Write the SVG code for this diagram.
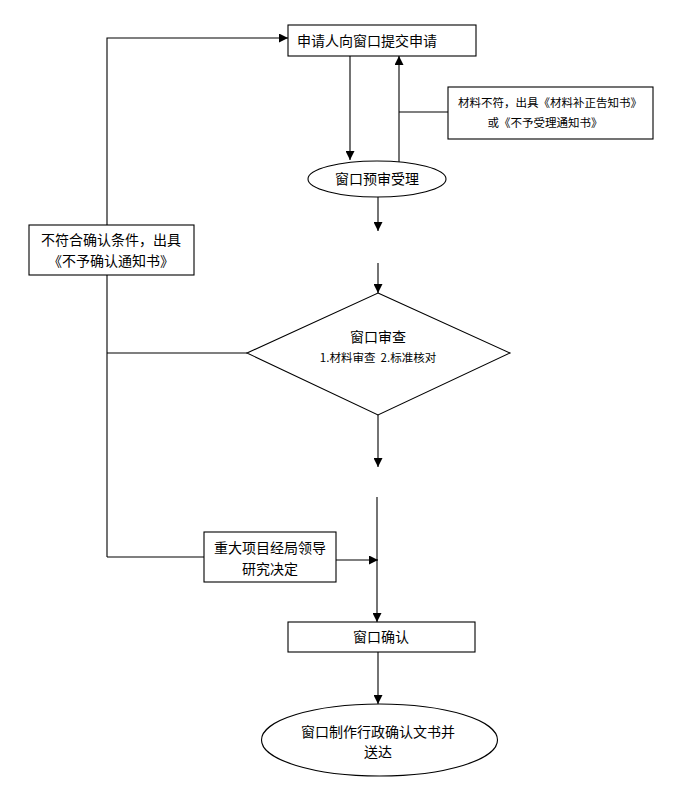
<svg xmlns="http://www.w3.org/2000/svg" width="687" height="804" viewBox="0 0 687 804">
<defs>
<marker id="ah" viewBox="0 0 10 10" refX="10" refY="5" markerWidth="9" markerHeight="9" markerUnits="userSpaceOnUse" orient="auto"><path d="M0,0 L10,5 L0,10 z" fill="#000"/></marker>
<style>
.s{fill:#fff;stroke:#000;stroke-width:1.1}
.c{fill:none;stroke:#000;stroke-width:1.1}
.a{fill:none;stroke:#000;stroke-width:1.1;marker-end:url(#ah)}
text{font-family:"Noto Sans CJK SC","Liberation Sans",sans-serif;fill:#000;text-anchor:middle}
.t{font-size:14px}
.m{font-size:11.5px}
</style>
</defs>
<rect width="687" height="804" fill="#fff"/>
<g id="connectors">
<polyline class="a" points="107,557 107,38 288,38"/>
<line class="a" x1="350" y1="56" x2="350" y2="160"/>
<line class="a" x1="399" y1="168" x2="399" y2="56"/>
<line class="c" x1="399" y1="112" x2="448" y2="112"/>
<line class="a" x1="378" y1="197" x2="378" y2="231"/>
<line class="a" x1="378" y1="263" x2="378" y2="293"/>
<line class="c" x1="247" y1="353" x2="107" y2="353"/>
<line class="a" x1="378" y1="415" x2="378" y2="467"/>
<line class="c" x1="107" y1="557" x2="204" y2="557"/>
<line class="a" x1="336" y1="560" x2="378" y2="560"/>
<line class="a" x1="377" y1="497" x2="377" y2="622"/>
<line class="a" x1="378" y1="652" x2="378" y2="704"/>
</g>
<g id="n1"><rect class="s" x="288" y="25" width="188" height="31"/><text class="t" x="367" y="46">申请人向窗口提交申请</text></g>
<g id="n2"><rect class="s" x="448" y="87" width="205" height="52"/><text class="m" x="550" y="107">材料不符，出具《材料补正告知书》</text><text class="m" x="545" y="127">或《不予受理通知书》</text></g>
<g id="n3"><ellipse class="s" cx="377" cy="179" rx="69" ry="18"/><text class="t" x="377" y="184">窗口预审受理</text></g>
<g id="n4"><rect class="s" x="29" y="225" width="165" height="50"/><text class="t" x="111" y="245">不符合确认条件，出具</text><text class="t" x="111" y="266">《不予确认通知书》</text></g>
<g id="n5"><polygon class="s" points="378,293 510,353 378,415 247,353"/><text class="t" x="378" y="342">窗口审查</text><text class="m" x="378" y="362" xml:space="preserve">1.材料审查  2.标准核对</text></g>
<g id="n6"><rect class="s" x="204" y="532" width="132" height="50"/><text class="t" x="270" y="553">重大项目经局领导</text><text class="t" x="270" y="574">研究决定</text></g>
<g id="n7"><rect class="s" x="288" y="622" width="187" height="30"/><text class="t" x="381" y="642">窗口确认</text></g>
<g id="n8"><ellipse class="s" cx="379.5" cy="740" rx="118" ry="36"/><text class="t" x="378" y="737">窗口制作行政确认文书并</text><text class="t" x="378" y="757">送达</text></g>
</svg>
